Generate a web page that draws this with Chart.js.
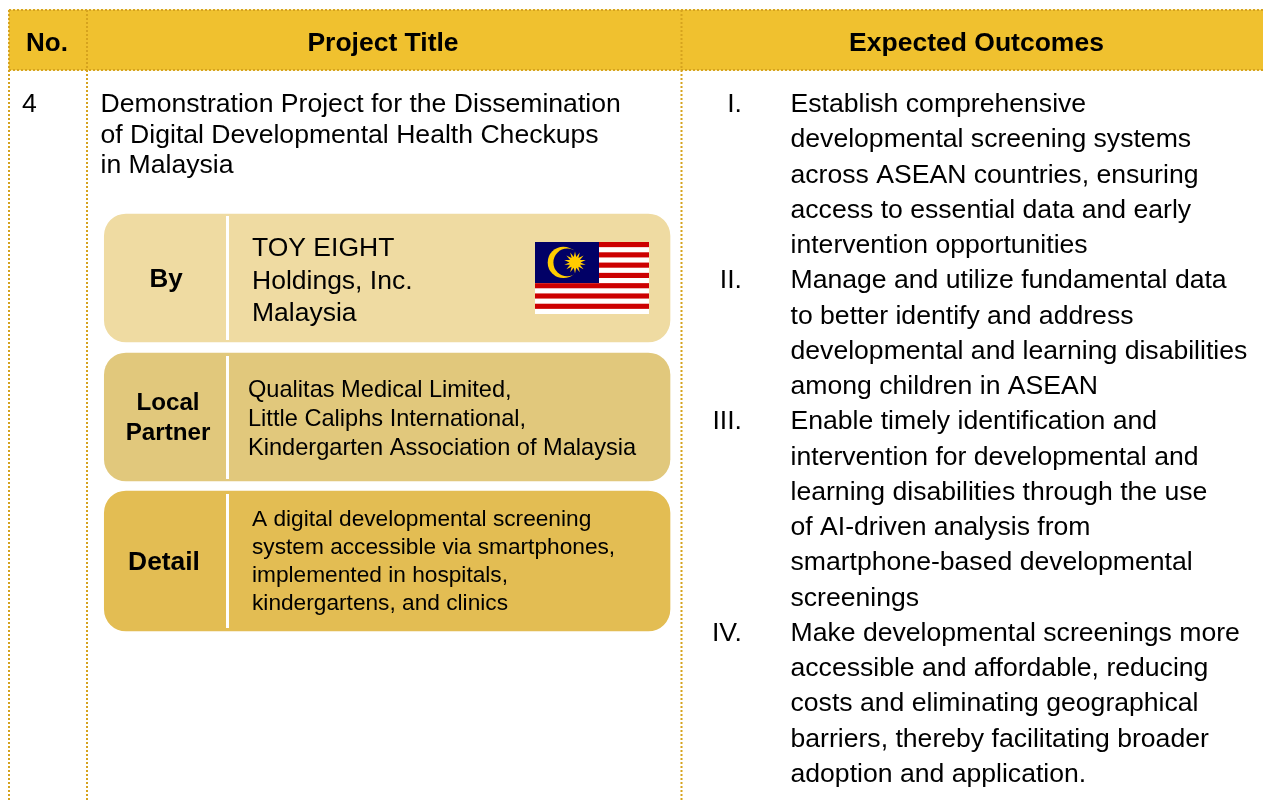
<!DOCTYPE html>
<html><head><meta charset="utf-8">
<style>html,body{margin:0;padding:0;background:#fff;overflow:hidden}#wrap{position:absolute;left:0;top:0;width:1263px;height:801px}</style>
<script src="https://cdn.jsdelivr.net/npm/chart.js@4"></script>
</head><body><div id="wrap"><canvas id="c" width="1263" height="801"></canvas></div>
<script>
// ---- content ----
const columnHeaders = ["No.", "Project Title", "Expected Outcomes"];
const rowNumber = "4";
const titleLines = ["Demonstration Project for the Dissemination", "of Digital Developmental Health Checkups", "in Malaysia"];
const panelNames = ["By", "Local Partner", "Detail"];
const byLines = ["TOY EIGHT", "Holdings, Inc.", "Malaysia"];
const partnerLines = ["Qualitas Medical Limited,", "Little Caliphs International,", "Kindergarten Association of Malaysia"];
const detailLines = ["A digital developmental screening", "system accessible via smartphones,", "implemented in hospitals,", "kindergartens, and clinics"];
const numerals = ["I.", "II.", "III.", "IV."];
const outcomes = [
 ["Establish comprehensive","developmental screening systems","across ASEAN countries, ensuring","access to essential data and early","intervention opportunities"],
 ["Manage and utilize fundamental data","to better identify and address","developmental and learning disabilities","among children in ASEAN"],
 ["Enable timely identification and","intervention for developmental and","learning disabilities through the use","of AI-driven analysis from","smartphone-based developmental","screenings"],
 ["Make developmental screenings more","accessible and affordable, reducing","costs and eliminating geographical","barriers, thereby facilitating broader","adoption and application."]
];
// ---- layout ----
const F = '"Liberation Sans", Arial, sans-serif';
const PANEL = [{t:214,b:342,c:'#EFDBA2'},{t:353,b:481,c:'#E1C87C'},{t:491,b:631,c:'#E3BD53'}];
const bar = (y0,y1,x0,x1,color,r,name)=>({label:name,data:[{y:(y0+y1)/2,x:[x0,x1]}],backgroundColor:color,borderWidth:0,
  barThickness:y1-y0,borderSkipped:false,borderRadius:r,stack:'one'});
const datasets = [bar(10,70,9,1263,'#F0C12F',0,'header')];
panelNames.forEach((n,i)=>{const p=PANEL[i];datasets.push(bar(p.t,p.b,104.3,670,p.c,22,n));});

function text(ctx,s,x,y,size,bold,align){ctx.font=(bold?'bold ':'')+size+'px '+F;ctx.textAlign=align||'left';ctx.textBaseline='alphabetic';ctx.fillStyle='#000';ctx.fillText(s,x,y);}
function dotted(ctx,x0,y0,x1,y1){ctx.save();ctx.strokeStyle='#D6A31E';ctx.lineWidth=2;ctx.setLineDash([2,2]);ctx.beginPath();ctx.moveTo(x0,y0);ctx.lineTo(x1,y1);ctx.stroke();ctx.restore();}
function flag(ctx){
  const x=535,y=242,w=114,h=72,s=h/14;
  ctx.fillStyle='#fff';ctx.fillRect(x,y,w,h);
  ctx.fillStyle='#CC0001';for(let i=0;i<14;i+=2)ctx.fillRect(x,y+i*s,w,s);
  ctx.fillStyle='#010066';ctx.fillRect(x,y,64,41);
  const cx=563.4,cy=262.4;
  ctx.fillStyle='#FFCC00';ctx.beginPath();ctx.arc(cx,cy,15.7,0,Math.PI*2);ctx.fill();
  ctx.fillStyle='#010066';ctx.beginPath();ctx.arc(cx+3.8,cy,13.8,0,Math.PI*2);ctx.fill();
  const sx=575,sy=262.4;ctx.fillStyle='#FFCC00';ctx.beginPath();
  for(let i=0;i<28;i++){const a=i*Math.PI/14-Math.PI/2,r=i%2?5.5:11;ctx.lineTo(sx+r*Math.cos(a),sy+r*Math.sin(a));}
  ctx.closePath();ctx.fill();
}
const tablePlugin={id:'table',afterDatasetsDraw(chart){
  const ctx=chart.ctx;ctx.save();
  dotted(ctx,9,10,1263,10);dotted(ctx,9,70,1263,70);
  [9,87,681.5].forEach(x=>dotted(ctx,x,10,x,801));
  ctx.fillStyle='#fff';
  ctx.fillRect(226,216,3,124);ctx.fillRect(226,356,3,123);ctx.fillRect(226,494,3,134);
  text(ctx,columnHeaders[0],47,51,26,true,'center');
  text(ctx,columnHeaders[1],383,51,26.5,true,'center');
  text(ctx,columnHeaders[2],976.5,51,26.5,true,'center');
  text(ctx,rowNumber,22,112,26.6);
  [112,143,173].forEach((b,i)=>text(ctx,titleLines[i],100.5,b,26.6));
  text(ctx,panelNames[0],166,287,26,true,'center');
  text(ctx,'Local',168,410,24.2,true,'center');
  text(ctx,'Partner',168,440,24.2,true,'center');
  text(ctx,panelNames[2],164,570,26.4,true,'center');
  [256,289,321].forEach((b,i)=>text(ctx,byLines[i],252,b,26.5));
  [397,426,455].forEach((b,i)=>text(ctx,partnerLines[i],248,b,23.6));
  [526,554,582,610].forEach((b,i)=>text(ctx,detailLines[i],252,b,22.7));
  flag(ctx);
  let b=112;const lead=35.25;
  outcomes.forEach((ls,k)=>{
    text(ctx,numerals[k],742,b,26.6,false,'right');
    ls.forEach(l=>{text(ctx,l,790.5,b,26.6);b+=lead;});
  });
  ctx.restore();
}};
new Chart(document.getElementById('c'),{type:'bar',data:{datasets},plugins:[tablePlugin],
 options:{indexAxis:'y',responsive:false,animation:false,events:[],layout:{padding:0},
  plugins:{legend:{display:false},tooltip:{enabled:false}},
  scales:{x:{type:'linear',min:0,max:1263,display:false,stacked:false,offset:false},y:{type:'linear',min:0,max:801,reverse:true,display:false,offset:false}}}});
</script></body></html>
